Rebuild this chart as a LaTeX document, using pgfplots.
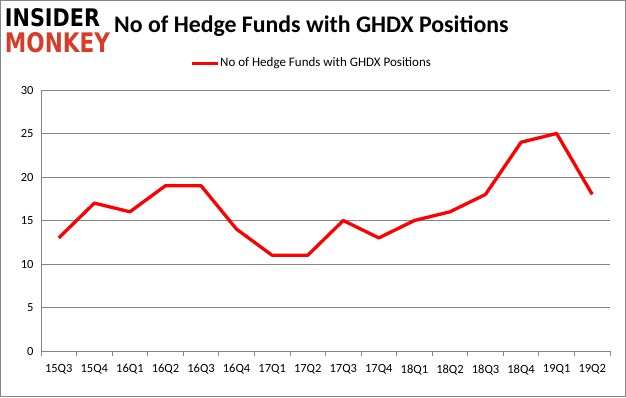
\documentclass[border=0pt]{standalone}
\usepackage{pgfplots}
\pgfplotsset{compat=1.18}
\usepackage{graphicx}
\usepackage{fontspec}
\setmainfont{Carlito}
\newfontfamily\logofont{DejaVu Sans}
\definecolor{gridgray}{RGB}{134,134,134}
\definecolor{monkeyred}{RGB}{214,60,40}
\begin{document}
\begin{tikzpicture}[x=1pt,y=1pt]
\draw[gridgray,line width=1pt] (0.5,0.5) rectangle (625.5,396.5);
\node[inner sep=0pt] at (52.5,379) {\resizebox{95pt}{18pt}{\logofont\bfseries INSIDER}};
\node[inner sep=0pt] at (57.5,354) {\resizebox{105pt}{20pt}{\logofont\bfseries\color{monkeyred}MONKEY}};
\node[anchor=base west,inner sep=0pt] at (114,364) {\fontsize{23.8}{26}\selectfont\bfseries No of Hedge Funds with GHDX Positions};
\draw[red,line width=2.2pt] (192,333.5) -- (218,333.5);
\node[anchor=base west,inner sep=0pt] at (220,330) {\fontsize{13}{15}\selectfont No of Hedge Funds with GHDX Positions};
\begin{axis}[
  at={(41pt,46pt)}, anchor=south west,
  scale only axis, width=569pt, height=261pt,
  xmin=-0.5, xmax=15.5, ymin=0, ymax=30,
  ytick={0,5,...,30},
  xtick={0,...,15},
  xticklabels={15Q3,15Q4,16Q1,16Q2,16Q3,16Q4,17Q1,17Q2,17Q3,17Q4,18Q1,18Q2,18Q3,18Q4,19Q1,19Q2},
  extra x ticks={-0.5,0.5,...,15.5},
  extra x tick labels={},
  extra x tick style={major tick length=5pt, tick align=outside, tick style={gridgray, line width=0.8pt}},
  axis lines*=left,
  axis line style={gridgray, line width=0.8pt},
  ymajorgrids, grid style={gridgray, line width=0.8pt},
  major tick length=0pt,
  ytick style={draw=none},
  y tick label style={font=\fontsize{12.5}{14}\selectfont, xshift=-4pt},
  x tick label style={font=\fontsize{12.5}{14}\selectfont, yshift=-10pt},
  /pgf/number format/assume math mode=true,
  tick label style={black},
  clip=false,
]
\addplot[red, line width=3.3pt, line join=round] coordinates {
(0,13) (1,17) (2,16) (3,19) (4,19) (5,14) (6,11) (7,11) (8,15) (9,13) (10,15) (11,16) (12,18) (13,24) (14,25) (15,18)
};
\end{axis}
\end{tikzpicture}
\end{document}
